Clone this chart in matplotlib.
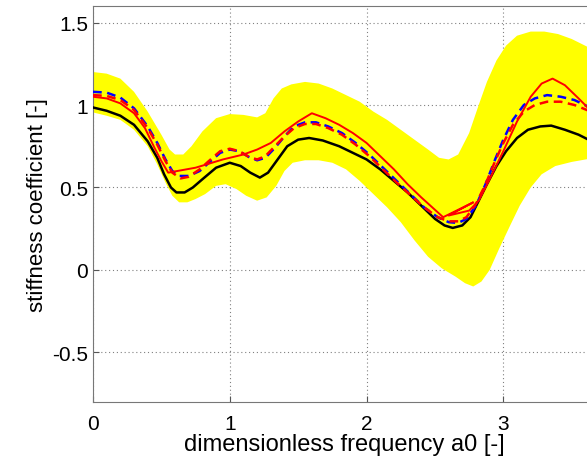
import numpy as np
import matplotlib
matplotlib.use('Agg')
import matplotlib.pyplot as plt

plt.rcParams['font.family'] = ['Liberation Sans', 'DejaVu Sans']

# yellow band (upper and lower edge)
band_up_x = [0, 0.1, 0.2, 0.3, 0.4, 0.5, 0.56, 0.6, 0.66, 0.72, 0.8, 0.9, 1.0, 1.1, 1.2, 1.26, 1.32,
             1.38, 1.45, 1.55, 1.65, 1.75, 1.85, 1.95, 2.05, 2.15, 2.25, 2.35, 2.45, 2.53, 2.6, 2.67,
             2.75, 2.82, 2.88, 2.95, 3.02, 3.1, 3.2, 3.3, 3.4, 3.5, 3.67]
band_up_y = [1.20, 1.19, 1.16, 1.08, 0.96, 0.82, 0.73, 0.70, 0.70, 0.75, 0.84, 0.92, 0.945, 0.94, 0.925,
             0.95, 1.04, 1.10, 1.125, 1.14, 1.13, 1.10, 1.06, 1.02, 0.96, 0.91, 0.85, 0.79, 0.73, 0.68,
             0.67, 0.70, 0.83, 1.00, 1.14, 1.27, 1.36, 1.42, 1.445, 1.445, 1.43, 1.40, 1.33]
band_lo_x = [0, 0.1, 0.2, 0.3, 0.4, 0.47, 0.53, 0.58, 0.63, 0.69, 0.75, 0.82, 0.9, 0.97, 1.05, 1.12,
             1.2, 1.27, 1.34, 1.4, 1.46, 1.55, 1.65, 1.75, 1.85, 1.95, 2.05, 2.15, 2.25, 2.35, 2.45,
             2.55, 2.65, 2.72, 2.78, 2.84, 2.9, 2.97, 3.05, 3.12, 3.2, 3.28, 3.38, 3.5, 3.67]
band_lo_y = [0.955, 0.935, 0.91, 0.85, 0.75, 0.64, 0.53, 0.45, 0.41, 0.41, 0.43, 0.46, 0.51, 0.52, 0.49,
             0.45, 0.42, 0.44, 0.51, 0.60, 0.65, 0.665, 0.665, 0.65, 0.61, 0.54, 0.46, 0.38, 0.29, 0.18,
             0.08, 0.01, -0.04, -0.08, -0.10, -0.07, 0.0, 0.13, 0.27, 0.39, 0.50, 0.58, 0.63, 0.655, 0.68]

# mean (black)
mean_x = [0, 0.1, 0.2, 0.3, 0.4, 0.47, 0.52, 0.57, 0.61, 0.67, 0.73, 0.8, 0.9, 1.0, 1.08, 1.15, 1.22,
          1.28, 1.35, 1.42, 1.5, 1.58, 1.68, 1.8, 1.9, 2.0, 2.1, 2.2, 2.3, 2.4, 2.5, 2.57, 2.63, 2.7,
          2.76, 2.82, 2.88, 2.95, 3.02, 3.1, 3.18, 3.27, 3.35, 3.45, 3.55, 3.67]
mean_y = [0.985, 0.965, 0.935, 0.88, 0.78, 0.68, 0.58, 0.50, 0.47, 0.47, 0.50, 0.55, 0.62, 0.65, 0.63,
          0.59, 0.56, 0.59, 0.67, 0.75, 0.79, 0.80, 0.785, 0.75, 0.71, 0.67, 0.61, 0.54, 0.47, 0.39,
          0.31, 0.27, 0.255, 0.27, 0.32, 0.42, 0.52, 0.63, 0.72, 0.80, 0.85, 0.87, 0.875, 0.85, 0.82, 0.77]

# blue dashed
blue_x = [0, 0.1, 0.2, 0.3, 0.4, 0.47, 0.53, 0.58, 0.63, 0.7, 0.78, 0.86, 0.93, 1.0, 1.07, 1.14, 1.2,
          1.26, 1.33, 1.4, 1.47, 1.55, 1.63, 1.72, 1.82, 1.92, 2.02, 2.12, 2.22, 2.32, 2.42, 2.52, 2.6,
          2.67, 2.73, 2.8, 2.87, 2.94, 3.0, 3.07, 3.15, 3.23, 3.32, 3.42, 3.52, 3.67]
blue_y = [1.08, 1.075, 1.045, 0.98, 0.87, 0.77, 0.67, 0.60, 0.57, 0.57, 0.60, 0.66, 0.71, 0.73, 0.72,
          0.685, 0.665, 0.68, 0.74, 0.81, 0.87, 0.895, 0.895, 0.87, 0.83, 0.77, 0.70, 0.62, 0.54, 0.46,
          0.38, 0.32, 0.29, 0.285, 0.31, 0.39, 0.52, 0.67, 0.79, 0.91, 1.00, 1.04, 1.06, 1.05, 1.03, 0.97]

# red dashed
red_d_x = [0, 0.1, 0.2, 0.3, 0.4, 0.47, 0.53, 0.58, 0.64, 0.7, 0.78, 0.86, 0.93, 1.0, 1.07, 1.14, 1.2,
           1.26, 1.33, 1.4, 1.47, 1.55, 1.63, 1.72, 1.82, 1.92, 2.02, 2.12, 2.22, 2.32, 2.42, 2.52, 2.6,
           2.67, 2.73, 2.8, 2.87, 2.94, 3.0, 3.07, 3.15, 3.23, 3.32, 3.42, 3.52, 3.67]
red_d_y = [1.06, 1.055, 1.03, 0.97, 0.86, 0.76, 0.66, 0.59, 0.555, 0.565, 0.61, 0.67, 0.72, 0.735, 0.72,
           0.685, 0.67, 0.69, 0.75, 0.81, 0.86, 0.885, 0.885, 0.86, 0.82, 0.76, 0.69, 0.61, 0.53, 0.455,
           0.38, 0.32, 0.295, 0.295, 0.32, 0.40, 0.52, 0.66, 0.77, 0.88, 0.96, 1.0, 1.02, 1.02, 1.0, 0.95]

# red solid
red_s_x = [0, 0.1, 0.2, 0.3, 0.38, 0.45, 0.5, 0.55, 0.75, 0.95, 1.1, 1.2, 1.3, 1.4, 1.5, 1.6, 1.7,
           1.8, 1.9, 2.0, 2.1, 2.2, 2.3, 2.4, 2.48, 2.56, 2.78, 2.6, 2.75, 2.82, 2.9, 3.0, 3.1, 3.2,
           3.28, 3.36, 3.45, 3.55, 3.67]
red_s_y = [1.05, 1.04, 1.01, 0.95, 0.86, 0.74, 0.66, 0.59, 0.62, 0.67, 0.70, 0.73, 0.77, 0.84, 0.90,
           0.95, 0.92, 0.88, 0.83, 0.77, 0.69, 0.61, 0.52, 0.44, 0.38, 0.32, 0.41, 0.33, 0.36, 0.42,
           0.55, 0.72, 0.90, 1.05, 1.13, 1.16, 1.12, 1.04, 0.94]

fig = plt.figure(figsize=(5.87, 4.64), dpi=100)
# axes runs slightly past the right edge of the image, as in the original
ax = fig.add_axes([0.1584, 0.1315, 0.8552, 0.8534])

ax.fill(np.concatenate([band_up_x, band_lo_x[::-1]]),
        np.concatenate([band_up_y, band_lo_y[::-1]]),
        color='#ffff00', linewidth=0, zorder=1)

ax.plot(mean_x, mean_y, color='black', lw=1.8, zorder=3)
ax.plot(blue_x, blue_y, color='blue', lw=1.8, dashes=(3.5, 2.2), zorder=4)
ax.plot(red_d_x, red_d_y, color='red', lw=1.8, dashes=(3.5, 2.2), zorder=5)
ax.plot(red_s_x, red_s_y, color='red', lw=1.4, zorder=6)

ax.set_xlim(0, 3.67)
ax.set_ylim(-0.8, 1.6)
ax.set_xticks([0, 1, 2, 3])
ax.set_yticks([-0.5, 0, 0.5, 1, 1.5])
ax.set_yticklabels(['-0.5', '0', '0.5', '1', '1.5'])
ax.grid(True, linestyle=(0, (1, 2.5)), color='#808080', linewidth=0.8)
ax.set_axisbelow(True)
ax.tick_params(direction='in', labelsize=15, length=4, color='#555555')
ax.tick_params(axis='x', pad=9)
for s in ax.spines.values():
    s.set_color('#777777')

ax.set_xlabel('dimensionless frequency a0 [-]', fontsize=17, labelpad=0)
ax.set_ylabel('stiffness coefficient [-]', fontsize=16, labelpad=3)

fig.savefig('out.png', dpi=100)
